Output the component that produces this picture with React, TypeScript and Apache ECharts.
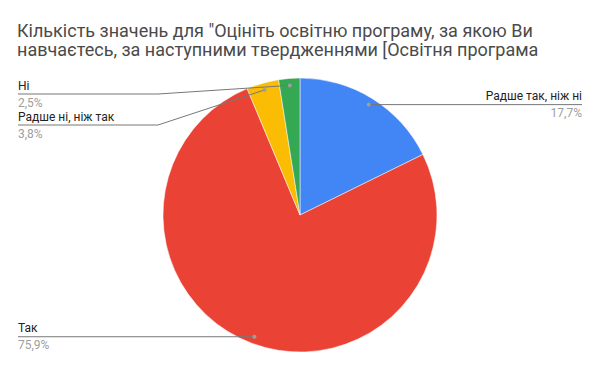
import React, { useEffect, useRef } from 'react';
import * as echarts from 'echarts';

const categories = ['Радше так, ніж ні', 'Так', 'Радше ні, ніж так', 'Ні'];
const values = [17.7, 75.9, 3.8, 2.5];
const percentLabels = ['17,7%', '75,9%', '3,8%', '2,5%'];
const colors = ['#4285F4', '#EA4335', '#FBBC04', '#34A853'];
const titleText =
  'Кількість значень для "Оцініть освітню програму, за якою Ви\nнавчаєтесь, за наступними твердженнями [Освітня програма';

const W = 600;
const H = 371;
const CX = 300;
const CY = 215;
const R = 137;
const DOT_R = 130;
const EDGE = 18;
const LABEL_MIN_Y = 94;
const LABEL_GAP = 31;

function computeLayout() {
  const total = values.reduce((a, b) => a + b, 0);
  let acc = 0;
  const items = values.map((v, i) => {
    const mid = ((acc + v / 2) / total) * Math.PI * 2;
    acc += v;
    const dx = Math.sin(mid);
    const dy = -Math.cos(mid);
    return { i, dotX: CX + dx * DOT_R, dotY: CY + dy * DOT_R, right: dx >= 0, lineY: 0 };
  });
  const result: any[] = [];
  for (const side of [true, false]) {
    const group = items.filter((it) => it.right === side).sort((a, b) => a.dotY - b.dotY);
    let prev = -Infinity;
    for (const it of group) {
      const y = Math.max(it.dotY, LABEL_MIN_Y, prev + LABEL_GAP);
      prev = y;
      result[it.i] = { ...it, lineY: y };
    }
  }
  return result;
}

export default function App() {
  const ref = useRef<HTMLDivElement>(null);
  useEffect(() => {
    if (!ref.current) return;
    const chart = echarts.init(ref.current, undefined, { renderer: 'svg' });
    const layout = computeLayout();
    const font = 'Roboto, Arial, sans-serif';
    const baseData = categories.map((c, i) => ({ name: c, value: values[i] }));
    chart.setOption({
      animation: false,
      backgroundColor: '#fff',
      title: {
        text: titleText,
        left: EDGE - 1,
        top: 21,
        padding: 0,
        textStyle: {
          fontFamily: font,
          fontSize: 18,
          fontWeight: 'normal',
          color: '#4a4a4a',
          lineHeight: 19,
        },
      },
      graphic: layout.map((L) => ({
        type: 'circle',
        z: 100,
        shape: { cx: L.dotX, cy: L.dotY, r: 2 },
        style: { fill: '#9e9e9e' },
        silent: true,
      })),
      series: [
        {
          type: 'pie',
          z: 2,
          center: [CX, CY],
          radius: R,
          startAngle: 90,
          clockwise: true,
          itemStyle: { borderColor: '#fff', borderWidth: 0.5 },
          data: baseData.map((d, i) => ({ ...d, itemStyle: { color: colors[i] } })),
          label: { show: false },
          labelLine: { show: false },
        },
        {
          type: 'pie',
          z: 5,
          silent: true,
          center: [CX, CY],
          radius: R,
          startAngle: 90,
          clockwise: true,
          avoidLabelOverlap: false,
          itemStyle: { color: 'rgba(0,0,0,0)', borderWidth: 0 },
          data: baseData,
          label: {
            show: true,
            position: 'outside',
            formatter: (p: any) => `{n|${p.name}}\n{p|${percentLabels[p.dataIndex]}}`,
            rich: {
              n: { fontFamily: font, fontSize: 12, color: '#222', lineHeight: 17 },
              p: { fontFamily: font, fontSize: 12, color: '#9e9e9e', lineHeight: 17 },
            },
          },
          labelLine: {
            show: true,
            showAbove: true,
            lineStyle: { color: '#777', width: 1 },
          },
          labelLayout: (params: any) => {
            const L = layout[params.dataIndex];
            const bendX = L.right ? CX + R + 5 : CX - R - 5;
            const endX = L.right ? W - EDGE : EDGE;
            return {
              x: endX,
              y: L.lineY,
              align: L.right ? 'right' : 'left',
              verticalAlign: 'middle',
              labelLinePoints: [
                [L.dotX, L.dotY],
                [bendX, L.lineY],
                [endX, L.lineY],
              ],
            };
          },
        },
      ],
    });
    return () => chart.dispose();
  }, []);
  return (
    <div
      ref={ref}
      style={{ position: 'fixed', left: 0, top: 0, width: W, height: H }}
    />
  );
}
